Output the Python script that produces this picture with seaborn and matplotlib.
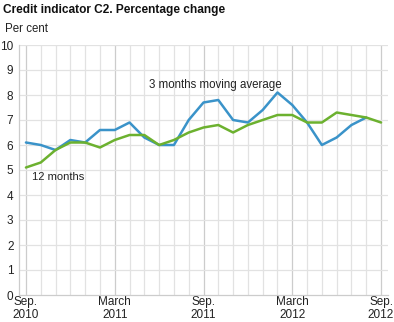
import matplotlib
matplotlib.use("Agg")
import matplotlib.pyplot as plt
import seaborn as sns
import pandas as pd
import numpy as np

# Monthly observations, Sep. 2010 - Sep. 2012
months = pd.date_range("2010-09-01", "2012-09-01", freq="MS").strftime("%Y-%m").tolist()
moving_avg_3m = [6.1, 6.0, 5.8, 6.2, 6.1, 6.6, 6.6, 6.9, 6.3, 6.0, 6.0, 7.0,
                 7.7, 7.8, 7.0, 6.9, 7.4, 8.1, 7.6, 6.9, 6.0, 6.3, 6.8, 7.1, np.nan]
growth_12m = [5.1, 5.3, 5.8, 6.1, 6.1, 5.9, 6.2, 6.4, 6.4, 6.0, 6.2, 6.5,
              6.7, 6.8, 6.5, 6.8, 7.0, 7.2, 7.2, 6.9, 6.9, 7.3, 7.2, 7.1, 6.9]
tick_labels = ["Sep.\n2010", "March\n2011", "Sep.\n2011", "March\n2012", "Sep.\n2012"]
yticks = list(range(0, 11))

sns.set_theme(style="white")
plt.rcParams["font.family"] = ["Liberation Sans", "DejaVu Sans"]

df = pd.DataFrame({
    "idx": np.arange(len(months)),
    "3 months moving average": moving_avg_3m,
    "12 months": growth_12m,
})
long = df.melt(id_vars="idx", var_name="series", value_name="value").dropna()

fig = plt.figure(figsize=(3.94, 3.22), dpi=100)
ax = fig.add_axes([19 / 394, 1 - 295 / 322, (388 - 19) / 394, (295 - 45) / 322])

# grid: light monthly lines, slightly darker at Sep./March
for i in range(len(months)):
    col = "#cccccc" if i % 6 == 0 else "#e2e2e2"
    ax.axvline(i, color=col, lw=0.9, zorder=0)
for y in yticks[1:]:
    ax.axhline(y, color="#e2e2e2", lw=0.9, zorder=0)

sns.lineplot(data=long, x="idx", y="value", hue="series",
             palette={"3 months moving average": "#3a93c9", "12 months": "#6cb12f"},
             hue_order=["3 months moving average", "12 months"],
             linewidth=1.8, legend=False, ax=ax, zorder=3)

ax.set_xlim(-0.47, 24.47)
ax.set_ylim(0, 10)
ax.set_yticks(yticks)
ax.set_yticklabels([str(v) for v in yticks], fontsize=8.5, color="#222222")
ax.set_xticks([0, 6, 12, 18, 24])
ax.set_xticklabels(tick_labels, fontsize=8.5, color="#222222", linespacing=1.1)
ax.tick_params(axis="y", length=3, width=0.8, color="#cccccc", pad=1)
ax.tick_params(axis="x", length=0, pad=1)
ax.set_xlabel("")
ax.set_ylabel("")
for side in ["top", "right"]:
    ax.spines[side].set_visible(False)
for side in ["left", "bottom"]:
    ax.spines[side].set_color("#cccccc")
    ax.spines[side].set_linewidth(0.9)

ax.text(8.3, 8.4, "3 months moving average", fontsize=8.3, color="#222222",
        va="center", ha="left")
ax.text(0.4, 4.7, "12 months", fontsize=8.0, color="#222222", va="center", ha="left")

fig.text(3 / 394, 1 - 10 / 322, "Credit indicator C2. Percentage change",
         fontsize=8.6, fontweight="bold", va="center", ha="left", color="#111111")
fig.text(5 / 394, 1 - 29 / 322, "Per cent", fontsize=8.3, va="center", ha="left",
         color="#222222")

fig.savefig("out.png", dpi=100)
